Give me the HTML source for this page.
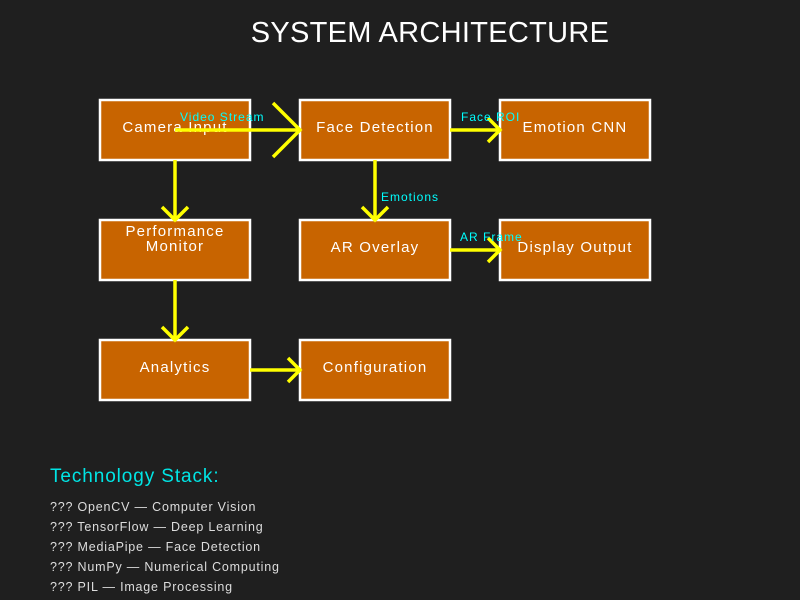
<!DOCTYPE html>
<html><head><style>body{margin:0;background:#1f1f1f}svg{display:block}</style></head><body>
<svg width="800" height="600" xmlns="http://www.w3.org/2000/svg" font-family="Liberation Sans, DejaVu Sans, sans-serif">
<rect width="800" height="600" fill="#1f1f1f"/>
<text x="430" y="42" font-size="29" fill="#fff" text-anchor="middle" letter-spacing="0.3">SYSTEM ARCHITECTURE</text>
<g fill="#c86400" stroke="#fff" stroke-width="2.5">
<rect x="100" y="100" width="150" height="60"/><rect x="300" y="100" width="150" height="60"/><rect x="500" y="100" width="150" height="60"/>
<rect x="100" y="220" width="150" height="60"/><rect x="300" y="220" width="150" height="60"/><rect x="500" y="220" width="150" height="60"/>
<rect x="100" y="340" width="150" height="60"/><rect x="300" y="340" width="150" height="60"/>
</g>
<g fill="#fff" font-size="15" text-anchor="middle" letter-spacing="1.2">
<text x="175" y="132">Camera Input</text><text x="375" y="132">Face Detection</text><text x="575" y="132">Emotion CNN</text>
<text x="175" y="236">Performance</text><text x="175" y="251">Monitor</text>
<text x="375" y="252">AR Overlay</text><text x="575" y="252">Display Output</text>
<text x="175" y="372">Analytics</text><text x="375" y="372">Configuration</text>
</g>
<g stroke="#ffff00" stroke-width="3.5" fill="none">
<path d="M175 130H300M273 103L300 130L273 157"/>
<path d="M450 130H500M488 118L500 130L488 142"/>
<path d="M175 160V220M162 207L175 220L188 207"/>
<path d="M375 160V220M362 207L375 220L388 207"/>
<path d="M450 250H500M488 238L500 250L488 262"/>
<path d="M175 280V340M162 327L175 340L188 327"/>
<path d="M250 370H300M288 358L300 370L288 382"/>
</g>
<g fill="#00ffff" font-size="12" letter-spacing="1">
<text x="180" y="121">Video Stream</text><text x="461" y="121">Face ROI</text>
<text x="381" y="201">Emotions</text><text x="460" y="241">AR Frame</text>
</g>
<text x="50" y="482" font-size="19" fill="#00e5e5" letter-spacing="0.9">Technology Stack:</text>
<g fill="#ddd" font-size="12.5" letter-spacing="0.8">
<text x="50" y="511">??? OpenCV — Computer Vision</text>
<text x="50" y="531">??? TensorFlow — Deep Learning</text>
<text x="50" y="551">??? MediaPipe — Face Detection</text>
<text x="50" y="571">??? NumPy — Numerical Computing</text>
<text x="50" y="591">??? PIL — Image Processing</text>
</g>
</svg>
</body></html>
